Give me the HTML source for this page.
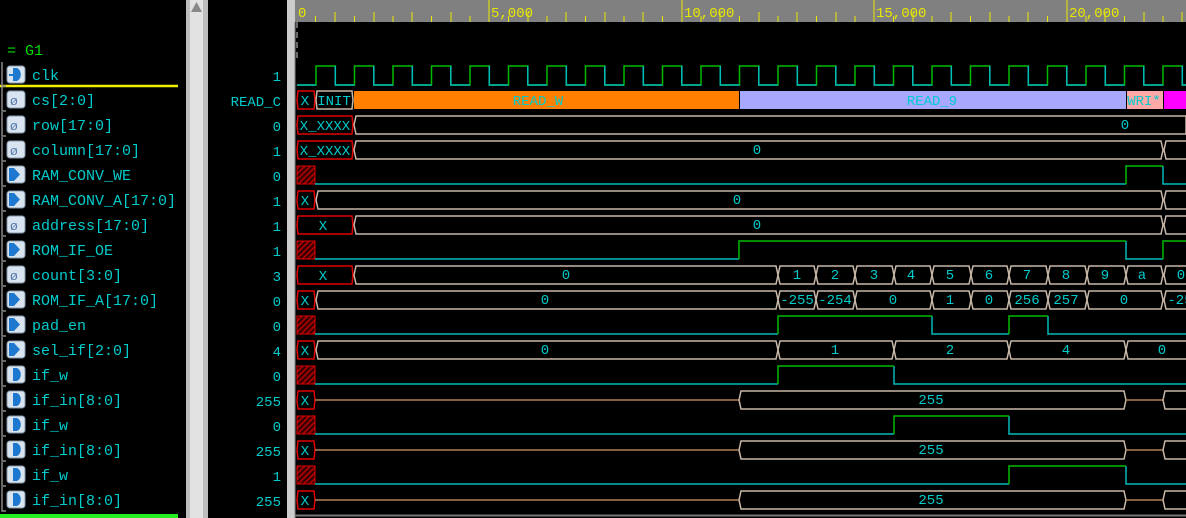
<!DOCTYPE html>
<html><head><meta charset="utf-8"><style>
html,body{margin:0;padding:0;background:#000;width:1186px;height:518px;overflow:hidden}
svg{display:block}
text{font-family:"Liberation Mono","DejaVu Sans Mono",monospace}
.n{fill:#00cccc;font-size:15px}
.v{fill:#00cccc;font-size:14px;text-anchor:end}
.w{fill:#00cccc;font-size:14px;text-anchor:middle}
.b{fill:none;stroke:#c8b8a8;stroke-width:1.5}
.x{fill:none;stroke:#e00000;stroke-width:1.5}
.lo{stroke:#00bbbb;stroke-width:1.5;fill:none}
.hi{stroke:#00bb00;stroke-width:1.5;fill:none}
.ln{stroke:#b08050;stroke-width:1.5}
.ic{fill:#d8e4f0;stroke:#8899aa;stroke-width:1}
.ig{fill:#1e78d0}
.br{stroke:#888;stroke-width:1.5;fill:none}
</style></head><body>
<svg width="1186" height="518" xmlns="http://www.w3.org/2000/svg">
<defs>
<pattern id="h" width="4" height="4" patternUnits="userSpaceOnUse" patternTransform="rotate(45)">
<rect width="4" height="4" fill="#300000"/><rect width="2" height="4" fill="#a00000"/></pattern>
</defs>
<rect width="1186" height="518" fill="#000"/>
<!-- scrollbar & separators -->
<rect x="186" y="0" width="22" height="518" fill="#bdbdbd"/>
<rect x="190" y="0" width="13" height="518" fill="#e2e2e2"/>
<polygon points="191,12 196.5,2 202,12" fill="#888"/>
<rect x="287" y="0" width="8" height="518" fill="#cccccc"/>
<!-- ruler -->
<rect x="295" y="0" width="891" height="22" fill="#808080"/>
<g stroke="#e8e800" stroke-width="1">
<line x1="315.5" y1="16" x2="315.5" y2="22"/><line x1="335" y1="12" x2="335" y2="22"/>
<line x1="354.5" y1="16" x2="354.5" y2="22"/><line x1="374" y1="12" x2="374" y2="22"/>
<line x1="393" y1="16" x2="393" y2="22"/><line x1="412" y1="12" x2="412" y2="22"/>
<line x1="431.5" y1="16" x2="431.5" y2="22"/><line x1="451" y1="12" x2="451" y2="22"/>
<line x1="470" y1="16" x2="470" y2="22"/><line x1="489" y1="0" x2="489" y2="22"/>
<line x1="508.5" y1="16" x2="508.5" y2="22"/><line x1="528" y1="12" x2="528" y2="22"/>
<line x1="547" y1="16" x2="547" y2="22"/><line x1="566" y1="12" x2="566" y2="22"/>
<line x1="585.5" y1="16" x2="585.5" y2="22"/><line x1="605" y1="12" x2="605" y2="22"/>
<line x1="624" y1="16" x2="624" y2="22"/><line x1="643" y1="12" x2="643" y2="22"/>
<line x1="662.5" y1="16" x2="662.5" y2="22"/><line x1="682" y1="0" x2="682" y2="22"/>
<line x1="701" y1="16" x2="701" y2="22"/><line x1="720" y1="12" x2="720" y2="22"/>
<line x1="739.5" y1="16" x2="739.5" y2="22"/><line x1="759" y1="12" x2="759" y2="22"/>
<line x1="778" y1="16" x2="778" y2="22"/><line x1="797" y1="12" x2="797" y2="22"/>
<line x1="816.5" y1="16" x2="816.5" y2="22"/><line x1="836" y1="12" x2="836" y2="22"/>
<line x1="855" y1="16" x2="855" y2="22"/><line x1="874" y1="0" x2="874" y2="22"/>
<line x1="893.5" y1="16" x2="893.5" y2="22"/><line x1="913" y1="12" x2="913" y2="22"/>
<line x1="932" y1="16" x2="932" y2="22"/><line x1="951" y1="12" x2="951" y2="22"/>
<line x1="970.5" y1="16" x2="970.5" y2="22"/><line x1="990" y1="12" x2="990" y2="22"/>
<line x1="1009" y1="16" x2="1009" y2="22"/><line x1="1028" y1="12" x2="1028" y2="22"/>
<line x1="1047.5" y1="16" x2="1047.5" y2="22"/><line x1="1067" y1="0" x2="1067" y2="22"/>
<line x1="1086" y1="16" x2="1086" y2="22"/><line x1="1105" y1="12" x2="1105" y2="22"/>
<line x1="1124.5" y1="16" x2="1124.5" y2="22"/><line x1="1144" y1="12" x2="1144" y2="22"/>
<line x1="1163" y1="16" x2="1163" y2="22"/><line x1="1182" y1="12" x2="1182" y2="22"/>
</g>
<g fill="#e8e800" font-size="14"><text x="298" y="17">0</text><text x="491" y="17">5,000</text><text x="684" y="17">10,000</text><text x="876" y="17">15,000</text><text x="1069" y="17">20,000</text></g>
<line x1="297" y1="22" x2="297" y2="62" stroke="#ccc" stroke-dasharray="6,4"/>
<line x1="295" y1="22" x2="295" y2="518" stroke="#888"/>
<line x1="295" y1="515.5" x2="1186" y2="515.5" stroke="#777" stroke-width="2"/>

<!-- left panel -->
<text x="7" y="55" fill="#00dd00" font-size="15">= G1</text>
<line x1="0" y1="86" x2="178" y2="86" stroke="#f0f000" stroke-width="2.5"/>
<rect x="0" y="514" width="178" height="4" fill="#22ee22"/>
<g>
<path class="br" d="M2,62 v24 h4 M2,87 v24 h4 M2,112 v24 h4 M2,137 v24 h4 M2,162 v24 h4 M2,187 v24 h4 M2,212 v24 h4 M2,237 v24 h4 M2,262 v24 h4 M2,287 v24 h4 M2,312 v24 h4 M2,337 v24 h4 M2,362 v24 h4 M2,387 v24 h4 M2,412 v24 h4 M2,437 v24 h4 M2,462 v24 h4 M2,487 v24 h4"/>
</g>
<g id="icons">
<rect class="ic" x="7" y="66" width="18" height="17" rx="3"/><path class="ig" d="M13,68 h4 a6,7 0 0 1 0,13 h-4z"/><rect x="9" y="74" width="5" height="2" fill="#1e78d0"/>
<rect class="ic" x="7" y="91" width="18" height="17" rx="3"/><text x="10" y="105" fill="#5577aa" font-size="13">&#248;</text>
<rect class="ic" x="7" y="116" width="18" height="17" rx="3"/><text x="10" y="130" fill="#5577aa" font-size="13">&#248;</text>
<rect class="ic" x="7" y="141" width="18" height="17" rx="3"/><text x="10" y="155" fill="#5577aa" font-size="13">&#248;</text>
<rect class="ic" x="7" y="166" width="18" height="17" rx="3"/><path class="ig" d="M9,168 h5 l6,6.5 l-6,6.5 h-5z"/>
<rect class="ic" x="7" y="191" width="18" height="17" rx="3"/><path class="ig" d="M9,193 h5 l6,6.5 l-6,6.5 h-5z"/>
<rect class="ic" x="7" y="216" width="18" height="17" rx="3"/><text x="10" y="230" fill="#5577aa" font-size="13">&#248;</text>
<rect class="ic" x="7" y="241" width="18" height="17" rx="3"/><path class="ig" d="M9,243 h5 l6,6.5 l-6,6.5 h-5z"/>
<rect class="ic" x="7" y="266" width="18" height="17" rx="3"/><text x="10" y="280" fill="#5577aa" font-size="13">&#248;</text>
<rect class="ic" x="7" y="291" width="18" height="17" rx="3"/><path class="ig" d="M9,293 h5 l6,6.5 l-6,6.5 h-5z"/>
<rect class="ic" x="7" y="316" width="18" height="17" rx="3"/><path class="ig" d="M9,318 h5 l6,6.5 l-6,6.5 h-5z"/>
<rect class="ic" x="7" y="341" width="18" height="17" rx="3"/><path class="ig" d="M9,343 h5 l6,6.5 l-6,6.5 h-5z"/>
<rect class="ic" x="7" y="366" width="18" height="17" rx="3"/><path class="ig" d="M13,368 h4 a6,7 0 0 1 0,13 h-4z"/>
<rect class="ic" x="7" y="391" width="18" height="17" rx="3"/><path class="ig" d="M13,393 h4 a6,7 0 0 1 0,13 h-4z"/>
<rect class="ic" x="7" y="416" width="18" height="17" rx="3"/><path class="ig" d="M13,418 h4 a6,7 0 0 1 0,13 h-4z"/>
<rect class="ic" x="7" y="441" width="18" height="17" rx="3"/><path class="ig" d="M13,443 h4 a6,7 0 0 1 0,13 h-4z"/>
<rect class="ic" x="7" y="466" width="18" height="17" rx="3"/><path class="ig" d="M13,468 h4 a6,7 0 0 1 0,13 h-4z"/>
<rect class="ic" x="7" y="491" width="18" height="17" rx="3"/><path class="ig" d="M13,493 h4 a6,7 0 0 1 0,13 h-4z"/>
</g>
<g class="n">
<text x="32" y="80">clk</text>
<text x="32" y="105">cs[2:0]</text>
<text x="32" y="130">row[17:0]</text>
<text x="32" y="155">column[17:0]</text>
<text x="32" y="180">RAM_CONV_WE</text>
<text x="32" y="205">RAM_CONV_A[17:0]</text>
<text x="32" y="230">address[17:0]</text>
<text x="32" y="255">ROM_IF_OE</text>
<text x="32" y="280">count[3:0]</text>
<text x="32" y="305">ROM_IF_A[17:0]</text>
<text x="32" y="330">pad_en</text>
<text x="32" y="355">sel_if[2:0]</text>
<text x="32" y="380">if_w</text>
<text x="32" y="405">if_in[8:0]</text>
<text x="32" y="430">if_w</text>
<text x="32" y="455">if_in[8:0]</text>
<text x="32" y="480">if_w</text>
<text x="32" y="505">if_in[8:0]</text>
</g>
<g class="v">
<text x="281" y="81">1</text><text x="281" y="106">READ_C</text><text x="281" y="131">0</text><text x="281" y="156">1</text>
<text x="281" y="181">0</text><text x="281" y="206">1</text><text x="281" y="231">1</text><text x="281" y="256">1</text>
<text x="281" y="281">3</text><text x="281" y="306">0</text><text x="281" y="331">0</text><text x="281" y="356">4</text>
<text x="281" y="381">0</text><text x="281" y="406">255</text><text x="281" y="431">0</text><text x="281" y="456">255</text>
<text x="281" y="481">1</text><text x="281" y="506">255</text>
</g>

<!-- clk -->
<path class="hi" d="M297,85 H316 V66 H335.3 V85 H354.5 V66 H373.8 V85 H393 V66 H412.3 V85 H431.5 V66 H450.8 V85 H470 V66 H489.3 V85 H508.5 V66 H527.8 V85 H547 V66 H566.3 V85 H585.5 V66 H604.8 V85 H624 V66 H643.3 V85 H662.5 V66 H681.8 V85 H701 V66 H720.3 V85 H739.5 V66 H758.8 V85 H778 V66 H797.3 V85 H816.5 V66 H835.8 V85 H855 V66 H874.3 V85 H893.5 V66 H912.8 V85 H932 V66 H951.3 V85 H970.5 V66 H989.8 V85 H1009 V66 H1028.3 V85 H1047.5 V66 H1066.8 V85 H1086 V66 H1105.3 V85 H1124.5 V66 H1143.8 V85 H1163 V66 H1182.3 V85 H1186"/>
<path class="lo" d="M297,85 H316 M335.3,66 V85 H354.5 M373.8,66 V85 H393 M412.3,66 V85 H431.5 M450.8,66 V85 H470 M489.3,66 V85 H508.5 M527.8,66 V85 H547 M566.3,66 V85 H585.5 M604.8,66 V85 H624 M643.3,66 V85 H662.5 M681.8,66 V85 H701 M720.3,66 V85 H739.5 M758.8,66 V85 H778 M797.3,66 V85 H816.5 M835.8,66 V85 H855 M874.3,66 V85 H893.5 M912.8,66 V85 H932 M951.3,66 V85 H970.5 M989.8,66 V85 H1009 M1028.3,66 V85 H1047.5 M1066.8,66 V85 H1086 M1105.3,66 V85 H1124.5 M1143.8,66 V85 H1163 M1182.3,66 V85 H1186"/>

<!-- cs -->
<rect x="354" y="91" width="385" height="18" fill="#ff8000"/>
<rect x="740" y="91" width="386" height="18" fill="#a8a8ff"/>
<rect x="1127" y="91" width="36" height="18" fill="#ffa8a8"/>
<rect x="1164" y="91" width="22" height="18" fill="#ff00ff"/>
<polygon class="x" points="297,100 298,91 314,91 315,100 314,109 298,109"/>
<polygon class="b" points="316,100 317,91 352,91 353,100 352,109 317,109"/>
<text class="w" x="305" y="105">X</text><text class="w" x="334" y="105">INIT</text>
<text class="w" x="538" y="105">READ_W</text><text class="w" x="932" y="105">READ_9</text>
<text class="w" x="1144" y="105">WRI*</text>

<!-- row -->
<polygon class="x" points="297,125 298,116 352,116 353,125 352,134 298,134"/>
<polygon class="b" points="354,125 356,116 1186,116 1186,134 356,134"/>
<text class="w" x="325" y="130">X_XXXX</text><text class="w" x="1125" y="129">0</text>
<!-- column -->
<polygon class="x" points="297,150 298,141 352,141 353,150 352,159 298,159"/>
<polygon class="b" points="354,150 356,141 1161,141 1163,150 1161,159 356,159"/>
<polyline class="b" points="1186,141 1166,141 1164,150 1166,159 1186,159"/>
<text class="w" x="325" y="155">X_XXXX</text><text class="w" x="757" y="154">0</text>
<!-- RAM_CONV_WE -->
<rect x="297" y="166" width="18" height="18" fill="url(#h)" stroke="#e00000"/>
<path class="lo" d="M315,184 H1126 M1163,166 V184 H1186"/><path class="hi" d="M1126,184 V166 H1163"/>
<!-- RAM_CONV_A -->
<polygon class="x" points="297,200 298,191 314,191 315,200 314,209 298,209"/>
<polygon class="b" points="316,200 318,191 1161,191 1163,200 1161,209 318,209"/>
<polyline class="b" points="1186,191 1166,191 1164,200 1166,209 1186,209"/>
<text class="w" x="305" y="205">X</text><text class="w" x="737" y="204">0</text>
<!-- address -->
<polygon class="x" points="297,225 298,216 352,216 353,225 352,234 298,234"/>
<polygon class="b" points="354,225 356,216 1161,216 1163,225 1161,234 356,234"/>
<polyline class="b" points="1186,216 1166,216 1164,225 1166,234 1186,234"/>
<text class="w" x="323" y="230">X</text><text class="w" x="757" y="229">0</text>
<!-- ROM_IF_OE -->
<rect x="297" y="241" width="18" height="18" fill="url(#h)" stroke="#e00000"/>
<path class="lo" d="M315,259 H739 M1126,241 V259 H1163"/><path class="hi" d="M739,259 V241 H1126 M1163,259 V241 H1186"/>
<!-- count -->
<polygon class="x" points="297,275 298,266 352,266 353,275 352,284 298,284"/>
<g class="b">
<polygon points="354,275 356,266 776,266 778,275 776,284 356,284"/>
<polygon points="778,275 780,266 814,266 816,275 814,284 780,284"/>
<polygon points="816,275 818,266 853,266 855,275 853,284 818,284"/>
<polygon points="855,275 857,266 892,266 894,275 892,284 857,284"/>
<polygon points="894,275 896,266 930,266 932,275 930,284 896,284"/>
<polygon points="932,275 934,266 969,266 971,275 969,284 934,284"/>
<polygon points="971,275 973,266 1007,266 1009,275 1007,284 973,284"/>
<polygon points="1009,275 1011,266 1046,266 1048,275 1046,284 1011,284"/>
<polygon points="1048,275 1050,266 1085,266 1087,275 1085,284 1050,284"/>
<polygon points="1087,275 1089,266 1124,266 1126,275 1124,284 1089,284"/>
<polygon points="1126,275 1128,266 1161,266 1163,275 1161,284 1128,284"/>
<polyline points="1186,266 1166,266 1164,275 1166,284 1186,284"/>
</g>
<g class="w"><text x="323" y="280">X</text><text x="566" y="279">0</text><text x="797" y="279">1</text><text x="835" y="279">2</text><text x="874" y="279">3</text><text x="911" y="279">4</text><text x="950" y="279">5</text><text x="989" y="279">6</text><text x="1027" y="279">7</text><text x="1066" y="279">8</text><text x="1105" y="279">9</text><text x="1142" y="279">a</text><text x="1181" y="279">0</text></g>
<!-- ROM_IF_A -->
<polygon class="x" points="297,300 298,291 314,291 315,300 314,309 298,309"/>
<g class="b">
<polygon points="316,300 318,291 776,291 778,300 776,309 318,309"/>
<polygon points="778,300 780,291 814,291 816,300 814,309 780,309"/>
<polygon points="816,300 818,291 853,291 855,300 853,309 818,309"/>
<polygon points="855,300 857,291 930,291 932,300 930,309 857,309"/>
<polygon points="932,300 934,291 969,291 971,300 969,309 934,309"/>
<polygon points="971,300 973,291 1007,291 1009,300 1007,309 973,309"/>
<polygon points="1009,300 1011,291 1046,291 1048,300 1046,309 1011,309"/>
<polygon points="1048,300 1050,291 1085,291 1087,300 1085,309 1050,309"/>
<polygon points="1087,300 1089,291 1161,291 1163,300 1161,309 1089,309"/>
<polyline points="1186,291 1166,291 1164,300 1166,309 1186,309"/>
</g>
<g class="w"><text x="305" y="305">X</text><text x="545" y="304">0</text><text x="797" y="304">-255</text><text x="835" y="304">-254</text><text x="893" y="304">0</text><text x="950" y="304">1</text><text x="989" y="304">0</text><text x="1027" y="304">256</text><text x="1066" y="304">257</text><text x="1124" y="304">0</text><text x="1180" y="304">-25</text></g>
<!-- pad_en -->
<rect x="297" y="316" width="18" height="18" fill="url(#h)" stroke="#e00000"/>
<path class="lo" d="M315,334 H778 M932,316 V334 H1009 M1048,316 V334 H1186"/><path class="hi" d="M778,334 V316 H932 M1009,334 V316 H1048"/>
<!-- sel_if -->
<polygon class="x" points="297,350 298,341 314,341 315,350 314,359 298,359"/>
<g class="b">
<polygon points="316,350 318,341 776,341 778,350 776,359 318,359"/>
<polygon points="778,350 780,341 892,341 894,350 892,359 780,359"/>
<polygon points="894,350 896,341 1007,341 1009,350 1007,359 896,359"/>
<polygon points="1009,350 1011,341 1124,341 1126,350 1124,359 1011,359"/>
<polyline points="1186,341 1128,341 1126,350 1128,359 1186,359"/>
</g>
<g class="w"><text x="305" y="355">X</text><text x="545" y="354">0</text><text x="835" y="354">1</text><text x="950" y="354">2</text><text x="1066" y="354">4</text><text x="1162" y="354">0</text></g>
<!-- if_w 1 -->
<rect x="297" y="366" width="18" height="18" fill="url(#h)" stroke="#e00000"/>
<path class="lo" d="M315,384 H778 M894,366 V384 H1186"/><path class="hi" d="M778,384 V366 H894"/>
<!-- if_in 1 -->
<polygon class="x" points="297,400 298,391 314,391 315,400 314,409 298,409"/>
<line class="ln" x1="315" y1="400" x2="739" y2="400"/>
<polygon class="b" points="739,400 741,391 1124,391 1126,400 1124,409 741,409"/>
<line class="ln" x1="1126" y1="400" x2="1163" y2="400"/>
<polyline class="b" points="1186,391 1165,391 1163,400 1165,409 1186,409"/>
<text class="w" x="305" y="405">X</text><text class="w" x="931" y="404">255</text>
<!-- if_w 2 -->
<rect x="297" y="416" width="18" height="18" fill="url(#h)" stroke="#e00000"/>
<path class="lo" d="M315,434 H894 M1009,416 V434 H1186"/><path class="hi" d="M894,434 V416 H1009"/>
<!-- if_in 2 -->
<polygon class="x" points="297,450 298,441 314,441 315,450 314,459 298,459"/>
<line class="ln" x1="315" y1="450" x2="739" y2="450"/>
<polygon class="b" points="739,450 741,441 1124,441 1126,450 1124,459 741,459"/>
<line class="ln" x1="1126" y1="450" x2="1163" y2="450"/>
<polyline class="b" points="1186,441 1165,441 1163,450 1165,459 1186,459"/>
<text class="w" x="305" y="455">X</text><text class="w" x="931" y="454">255</text>
<!-- if_w 3 -->
<rect x="297" y="466" width="18" height="18" fill="url(#h)" stroke="#e00000"/>
<path class="lo" d="M315,484 H1009 M1126,466 V484 H1186"/><path class="hi" d="M1009,484 V466 H1126"/>
<!-- if_in 3 -->
<polygon class="x" points="297,500 298,491 314,491 315,500 314,509 298,509"/>
<line class="ln" x1="315" y1="500" x2="739" y2="500"/>
<polygon class="b" points="739,500 741,491 1124,491 1126,500 1124,509 741,509"/>
<line class="ln" x1="1126" y1="500" x2="1163" y2="500"/>
<polyline class="b" points="1186,491 1165,491 1163,500 1165,509 1186,509"/>
<text class="w" x="305" y="505">X</text><text class="w" x="931" y="504">255</text>
</svg>
</body></html>
